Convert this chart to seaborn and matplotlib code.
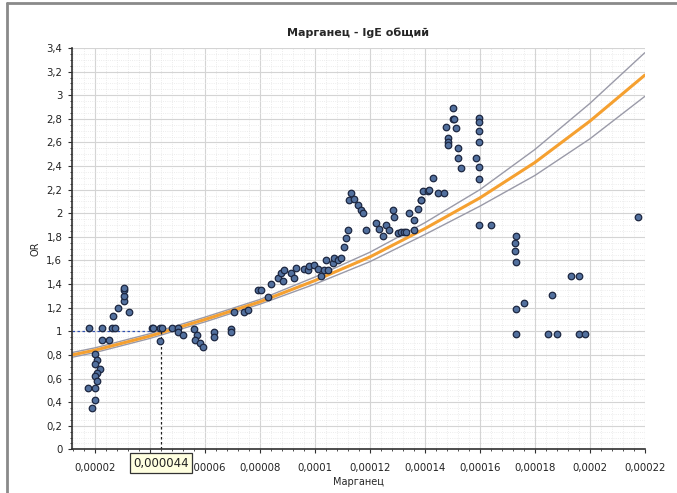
import numpy as np
import pandas as pd
import matplotlib
matplotlib.use("Agg")
import matplotlib.pyplot as plt
import seaborn as sns
from matplotlib.ticker import FuncFormatter, MultipleLocator, AutoMinorLocator
from matplotlib.lines import Line2D

# Точки: содержание марганца (в единицах 1e-5) и OR
mn_e5 = [1.78, 2.24, 2.62, 2.73, 2.24, 2.51,
         2.00, 2.07, 2.00, 2.18, 2.07, 2.00, 2.07,
         1.74, 2.00, 2.00, 1.88,
         2.66, 2.84, 3.24, 3.06, 3.06, 3.06, 3.06,
         4.07, 4.37, 4.37, 4.12, 4.45, 4.81, 5.03, 5.03, 5.21,
         5.58, 5.72, 5.65, 5.83, 5.91, 6.31, 6.31, 6.93, 6.93,
         7.40, 7.55, 7.04, 7.92, 8.02, 8.28, 8.39, 8.64, 8.75, 8.83, 8.86,
         9.12, 9.23, 9.30, 9.59, 9.74, 9.77, 9.96, 10.10, 10.21, 10.32,
         10.39, 10.47, 10.65, 10.69, 10.83, 10.94, 11.05, 11.13, 11.20,
         11.23, 11.31, 11.42, 11.57, 11.67, 11.75, 11.86, 12.22, 12.33,
         12.48, 12.59, 12.69, 12.84, 12.88, 13.02, 13.13, 13.24, 13.32,
         13.43, 13.61, 13.75, 13.86, 13.94, 14.12, 13.61, 13.86, 14.15,
         14.30, 14.48, 14.70,
         14.77, 14.85, 14.85, 14.85, 15.03, 15.03, 15.07, 15.14, 15.21,
         15.21, 15.32,
         15.95, 15.95, 15.95, 15.95, 15.87, 15.95, 15.95, 15.95, 16.42,
         17.30, 17.26, 17.26, 17.30, 17.30, 17.59, 17.30,
         18.47, 18.79, 18.61, 19.30, 19.59, 19.59, 19.81, 21.75]
odds = [1.03, 1.03, 1.03, 1.03, 0.93, 0.93,
        0.81, 0.76, 0.72, 0.68, 0.65, 0.62, 0.58,
        0.52, 0.52, 0.42, 0.35,
        1.13, 1.20, 1.16, 1.26, 1.30, 1.35, 1.37,
        1.03, 1.03, 0.92, 1.03, 1.03, 1.03, 1.03, 0.99, 0.97,
        1.02, 0.97, 0.93, 0.90, 0.87, 0.99, 0.95, 1.02, 0.99,
        1.16, 1.18, 1.16, 1.35, 1.35, 1.29, 1.40, 1.45, 1.49, 1.43, 1.52,
        1.49, 1.45, 1.54, 1.53, 1.52, 1.55, 1.56, 1.53, 1.47, 1.52,
        1.60, 1.52, 1.58, 1.62, 1.60, 1.62, 1.71, 1.79, 1.86,
        2.11, 2.17, 2.12, 2.07, 2.03, 2.00, 1.86, 1.92, 1.87,
        1.81, 1.90, 1.86, 2.03, 1.97, 1.83, 1.84, 1.84, 1.84,
        2.00, 1.94, 2.04, 2.11, 2.19, 2.19, 1.86, 2.11, 2.20,
        2.30, 2.17, 2.17,
        2.73, 2.64, 2.60, 2.58, 2.89, 2.80, 2.80, 2.72, 2.55,
        2.47, 2.38,
        2.81, 2.77, 2.70, 2.60, 2.47, 2.39, 2.29, 1.90, 1.90,
        1.81, 1.75, 1.68, 1.59, 1.19, 1.24, 0.98,
        0.98, 0.98, 1.31, 1.47, 1.47, 0.98, 0.98, 1.97]

# Сглаживающая кривая и доверительный интервал
fit_x_e5 = [1.16, 2, 4, 6, 8, 10, 12, 14, 16, 18, 20, 22]
fit_or = [0.80, 0.84, 0.96, 1.10, 1.25, 1.43, 1.63, 1.87, 2.13, 2.43, 2.78, 3.17]
fit_hi = [0.82, 0.86, 0.98, 1.12, 1.27, 1.46, 1.67, 1.92, 2.20, 2.54, 2.93, 3.36]
fit_lo = [0.78, 0.82, 0.94, 1.08, 1.23, 1.40, 1.59, 1.82, 2.06, 2.32, 2.63, 2.99]

x_mark = 0.000044
x_mark_label = "0,000044"

df = pd.DataFrame({"mn": np.array(mn_e5) * 1e-5, "OR": odds})
fit = pd.DataFrame({"mn": np.array(fit_x_e5) * 1e-5, "OR": fit_or,
                    "hi": fit_hi, "lo": fit_lo})

sns.set_style("white")
fig = plt.figure(figsize=(6.77, 4.93), dpi=100)
ax = fig.add_axes([0.1064, 0.0886, 0.846, 0.814])

sns.lineplot(data=fit, x="mn", y="hi", color="#9a9aa8", lw=1.0, ax=ax)
sns.lineplot(data=fit, x="mn", y="lo", color="#9a9aa8", lw=1.0, ax=ax)
sns.lineplot(data=fit, x="mn", y="OR", color="#f5a030", lw=2.2, ax=ax)

sns.scatterplot(data=df, x="mn", y="OR", s=22, color="#52709e",
                edgecolor="#1c2640", linewidth=0.9, zorder=3, ax=ax)

# пунктирные линии к отметке
ax.plot([1.16e-5, x_mark], [1, 1], ls=(0, (2, 2)), color="#3050b0", lw=0.9, zorder=2)
ax.plot([x_mark, x_mark], [0, 1], ls=(0, (2, 2)), color="#202020", lw=0.9, zorder=2)

ax.set_xlim(1.16e-5, 0.00022)
ax.set_ylim(0, 3.4)

ax.xaxis.set_major_locator(MultipleLocator(0.00002))
ax.xaxis.set_minor_locator(AutoMinorLocator(5))
ax.yaxis.set_major_locator(MultipleLocator(0.2))
ax.yaxis.set_minor_locator(AutoMinorLocator(4))

def fmt_x(v, pos):
    if abs(v - x_mark) < 0.000005:
        return ""  # закрыт выноской с отметкой
    s = f"{v:.5f}".rstrip("0").rstrip(".")
    return s.replace(".", ",")

def fmt_y(v, pos):
    s = f"{v:.1f}".rstrip("0").rstrip(".")
    return s.replace(".", ",")

ax.xaxis.set_major_formatter(FuncFormatter(fmt_x))
ax.yaxis.set_major_formatter(FuncFormatter(fmt_y))

ax.grid(True, which="major", color="#d4d4d4", lw=0.8)
ax.grid(True, which="minor", color="#e6e6e6", lw=0.6, ls=":")
ax.set_axisbelow(True)

for side in ["top", "right"]:
    ax.spines[side].set_visible(False)
for side in ["left", "bottom"]:
    ax.spines[side].set_color("#303030")
    ax.spines[side].set_linewidth(1.2)

ax.tick_params(which="major", length=3, width=0.8, color="#303030",
               labelsize=7.3, labelcolor="#222222", left=True, bottom=True)
ax.tick_params(axis="x", which="major", pad=7)
ax.tick_params(axis="y", which="major", pad=4)
ax.tick_params(which="minor", length=1.5, width=0.6, color="#303030",
               left=True, bottom=True)

ax.set_title("Марганец - IgE общий", fontsize=8, fontweight="bold", pad=9)
ax.set_xlabel("Марганец", fontsize=7, labelpad=3)
ax.set_ylabel("OR", fontsize=7, labelpad=4)

ax.annotate(x_mark_label, xy=(x_mark, 0), xycoords="data",
            xytext=(0, -10), textcoords="offset points", ha="center", va="center",
            fontsize=8.5, color="#222222",
            bbox=dict(boxstyle="square,pad=0.3", fc="#ffffe0", ec="#333333", lw=0.9),
            zorder=5, annotation_clip=False)

# рамка окна
fig.add_artist(Line2D([0.01, 0.01], [0, 0.994], transform=fig.transFigure,
                      color="#8a8a8a", lw=2))
fig.add_artist(Line2D([0.01, 1], [0.994, 0.994], transform=fig.transFigure,
                      color="#8a8a8a", lw=2))

fig.savefig("out.png", dpi=100)
